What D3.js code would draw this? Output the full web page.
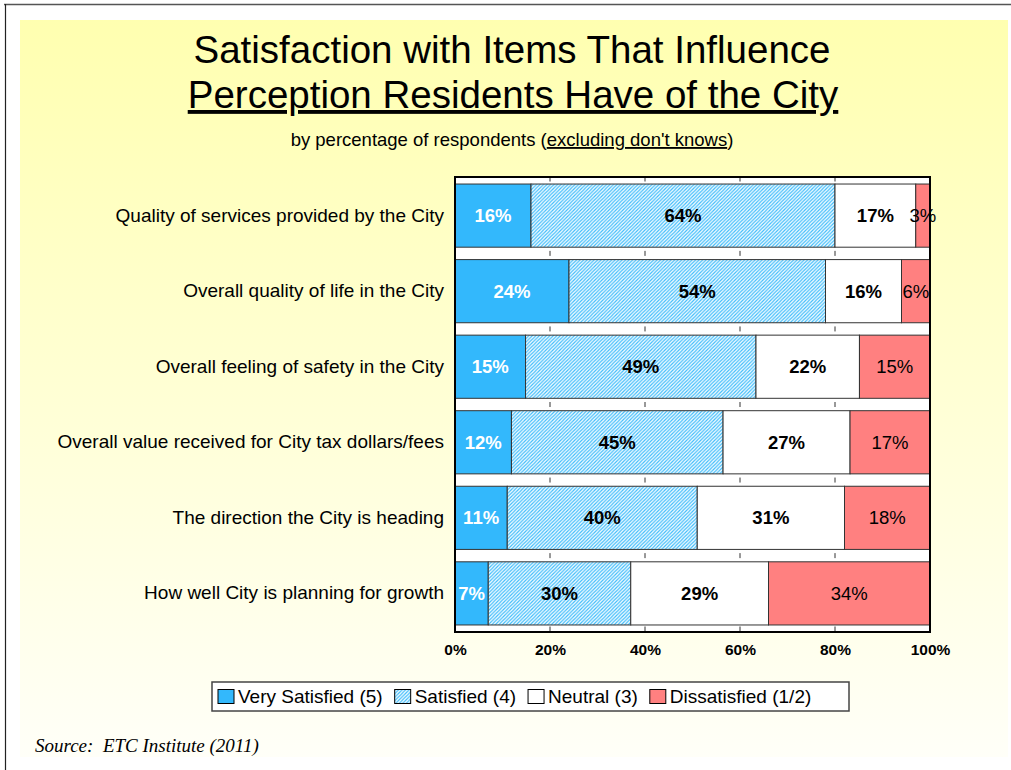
<!DOCTYPE html>
<html>
<head>
<meta charset="utf-8">
<script src="https://cdn.jsdelivr.net/npm/d3@7"></script>
<style>
  body { margin: 0; background: #fff; }
  svg { display: block; font-family: "Liberation Sans", Arial, sans-serif; }
</style>
</head>
<body>
<div id="chart"></div>
<script>
// Categories, top to bottom.
const categories = [
    "Quality of services provided by the City",
    "Overall quality of life in the City",
    "Overall feeling of safety in the City",
    "Overall value received for City tax dollars/fees",
    "The direction the City is heading",
    "How well City is planning for growth"
];

// Series values (percent of respondents).
const verySatisfied = [16, 24, 15, 12, 11, 7];
const satisfied = [64, 54, 49, 45, 40, 30];
const neutral = [17, 16, 22, 27, 31, 29];
const dissatisfied = [3, 6, 15, 17, 18, 34];

const seriesNames = ["Very Satisfied (5)", "Satisfied (4)", "Neutral (3)", "Dissatisfied (1/2)"];
const tickValues = [0, 0.2, 0.4, 0.6, 0.8, 1];

const width = 1011;
const height = 770;

let svg = d3.select("#chart")
    .append("svg")
    .attr("width", width)
    .attr("height", height);

// Background gradient and hatch pattern.
let defs = svg.append("defs");
let grad = defs.append("linearGradient")
    .attr("id", "bg")
    .attr("x1", 0).attr("y1", 0).attr("x2", 0).attr("y2", 1);
grad.append("stop").attr("offset", "0%").attr("stop-color", "#ffffb0");
grad.append("stop").attr("offset", "100%").attr("stop-color", "#fffff8");

let hatch = defs.append("pattern")
    .attr("id", "hatch")
    .attr("patternUnits", "userSpaceOnUse")
    .attr("width", 3.5)
    .attr("height", 3.5);
hatch.append("rect").attr("width", 3.5).attr("height", 3.5).attr("fill", "#ffffff");
hatch.append("path")
    .attr("d", "M-1,1 l2,-2 M0,3.5 l3.5,-3.5 M2.5,4.5 l2,-2")
    .attr("stroke", "#3dbcfb")
    .attr("stroke-width", 1.2);

// Slide frame.
svg.append("line").attr("x1", 4).attr("y1", 4.5).attr("x2", width).attr("y2", 4.5)
    .attr("stroke", "#555").attr("stroke-width", 1.5);
svg.append("line").attr("x1", 5.5).attr("y1", 4).attr("x2", 5.5).attr("y2", height)
    .attr("stroke", "#222").attr("stroke-width", 1.2);
svg.append("rect")
    .attr("x", 20).attr("y", 20)
    .attr("width", 988).attr("height", 737)
    .attr("fill", "url(#bg)");

// Titles.
svg.append("text")
    .attr("x", 512).attr("y", 63)
    .attr("text-anchor", "middle")
    .style("font-size", "38.5px")
    .text("Satisfaction with Items That Influence");
svg.append("text")
    .attr("x", 513).attr("y", 108)
    .attr("text-anchor", "middle")
    .style("font-size", "38.5px")
    .style("text-decoration", "underline")
    .text("Perception Residents Have of the City");

let sub = svg.append("text")
    .attr("x", 512).attr("y", 146)
    .attr("text-anchor", "middle")
    .style("font-size", "18.5px");
sub.append("tspan").text("by percentage of respondents (");
sub.append("tspan").style("text-decoration", "underline").text("excluding don't knows");
sub.append("tspan").text(")");

// Build stacked data, normalised to 100%.
const table = categories.map((c, i) => {
    const vals = [verySatisfied[i], satisfied[i], neutral[i], dissatisfied[i]];
    const total = d3.sum(vals);
    const row = { category: c };
    seriesNames.forEach((s, j) => {
        row[s] = vals[j] / total;
        row["raw" + j] = vals[j];
    });
    return row;
});
const stacked = d3.stack().keys(seriesNames)(table);

// Scales.
const plot = { left: 455, right: 930, top: 177, bottom: 632 };
let x = d3.scaleLinear().domain([0, 1]).range([plot.left, plot.right]);
let y = d3.scaleBand()
    .domain(categories)
    .range([plot.top, plot.bottom])
    .paddingInner(0.164)
    .paddingOuter(0.093);

// Plot area.
svg.append("rect")
    .attr("x", plot.left).attr("y", plot.top)
    .attr("width", plot.right - plot.left).attr("height", plot.bottom - plot.top)
    .attr("fill", "#ffffff");

// Small tick marks showing between bars.
const gapYs = [plot.top + 2];
categories.forEach((c, i) => {
    if (i < categories.length - 1) {
        gapYs.push((y(c) + y.bandwidth() + y(categories[i + 1])) / 2);
    }
});
gapYs.push(plot.bottom - 3);
svg.append("g")
    .selectAll("g")
    .data(gapYs)
    .enter()
    .append("g")
    .selectAll("line")
    .data(d => tickValues.slice(1, -1).map(t => ({ t: t, gy: d })))
    .enter()
    .append("line")
    .attr("x1", d => x(d.t)).attr("x2", d => x(d.t))
    .attr("y1", d => d.gy - 2.5).attr("y2", d => d.gy + 2.5)
    .attr("stroke", "#333").attr("stroke-width", 1);

// Bars.
const fills = ["#33b8fc", "url(#hatch)", "#ffffff", "#ff8080"];
let layers = svg.append("g")
    .selectAll("g")
    .data(stacked)
    .enter()
    .append("g")
    .attr("fill", (d, i) => fills[i]);

layers.selectAll("rect")
    .data(d => d)
    .enter()
    .append("rect")
    .attr("x", d => x(d[0]))
    .attr("y", d => y(d.data.category))
    .attr("width", d => x(d[1]) - x(d[0]))
    .attr("height", y.bandwidth())
    .attr("stroke", "#333")
    .attr("stroke-width", 1);

// Bar labels.
const labelColors = ["#ffffff", "#000000", "#000000", "#000000"];
const labelWeights = ["bold", "bold", "bold", "normal"];
stacked.forEach((layer, si) => {
    svg.append("g")
        .selectAll("text")
        .data(layer)
        .enter()
        .append("text")
        .attr("x", d => (x(d[0]) + x(d[1])) / 2)
        .attr("y", d => y(d.data.category) + y.bandwidth() / 2)
        .attr("dy", "0.36em")
        .attr("text-anchor", "middle")
        .style("font-size", "18.5px")
        .style("font-weight", labelWeights[si])
        .attr("fill", labelColors[si])
        .text(d => d.data["raw" + si] + "%");
});

// Plot border.
svg.append("rect")
    .attr("x", plot.left).attr("y", plot.top)
    .attr("width", plot.right - plot.left).attr("height", plot.bottom - plot.top)
    .attr("fill", "none")
    .attr("stroke", "#000")
    .attr("stroke-width", 2);

// X axis labels.
let xAxis = svg.append("g")
    .attr("transform", "translate(0," + plot.bottom + ")")
    .call(d3.axisBottom(x).tickValues(tickValues).tickFormat(d3.format(".0%")).tickSize(0).tickPadding(12));
xAxis.select(".domain").remove();
xAxis.selectAll("text")
    .style("font-size", "15.5px")
    .style("font-weight", "bold")
    .style("font-family", "'Liberation Sans', Arial, sans-serif")
    .attr("fill", "#000");

// Category labels.
let yAxis = svg.append("g")
    .attr("transform", "translate(" + (plot.left - 11) + ",0)")
    .call(d3.axisLeft(y).tickSize(0).tickPadding(0));
yAxis.select(".domain").remove();
yAxis.selectAll("text")
    .style("font-size", "19px")
    .style("font-family", "'Liberation Sans', Arial, sans-serif")
    .attr("fill", "#000");

// Legend.
const legend = { x: 212, y: 682, w: 637, h: 29 };
svg.append("rect")
    .attr("x", legend.x).attr("y", legend.y)
    .attr("width", legend.w).attr("height", legend.h)
    .attr("fill", "#ffffff")
    .attr("stroke", "#444")
    .attr("stroke-width", 1.5);

let lx = legend.x + 6;
seriesNames.forEach((s, i) => {
    svg.append("rect")
        .attr("x", lx).attr("y", legend.y + 7.5)
        .attr("width", 16).attr("height", 14)
        .attr("fill", fills[i])
        .attr("stroke", "#000")
        .attr("stroke-width", 1);
    let t = svg.append("text")
        .attr("x", lx + 20).attr("y", legend.y + 21)
        .style("font-size", "19px")
        .text(s);
    lx += 20 + t.node().getComputedTextLength() + 12;
});

// Source note.
svg.append("text")
    .attr("x", 35).attr("y", 752)
    .style("font-family", "'Liberation Serif', 'Times New Roman', serif")
    .style("font-style", "italic")
    .style("font-size", "19px")
    .attr("xml:space", "preserve")
    .text("Source:  ETC Institute (2011)");
</script>
</body>
</html>
